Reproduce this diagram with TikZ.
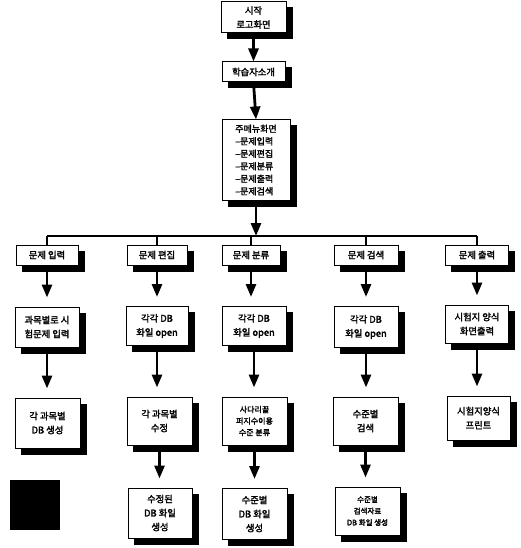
\documentclass[tikz,border=0pt]{standalone}
\usepackage{fontspec}
\setmainfont{Noto Sans CJK KR}
\newfontfamily\kb{Noto Sans CJK KR}[FakeBold=2.2]
\usetikzlibrary{arrows.meta,backgrounds}
\begin{document}
\begin{tikzpicture}[x=1pt,y=-1pt,
  box/.style={draw=black,line width=1pt,fill=white,align=center,inner sep=1pt,
    font=\kb\fontsize{9.3}{14}\selectfont},
  shadowfill/.style={fill=black},
  arr/.style={line width=2.8pt,-{Triangle[width=10pt,length=13pt]}},
  bus/.style={line width=1.3pt}]
\useasboundingbox (0,0) rectangle (521,548);

% test fill far from boxes
\fill[shadowfill] (10,480) rectangle (60,530);

% top
\node[box,minimum width=65pt,minimum height=31pt] (start) at (253.5,17.5) {시작\\로고화면};
\node[box,minimum width=63pt,minimum height=20pt] (intro) at (253.5,72) {학습자소개};
\node[box,minimum width=68pt,minimum height=80pt,align=left,font=\kb\fontsize{9}{12.5}\selectfont] (menu) at (256,160)
  {주메뉴화면\\–문제입력\\–문제편집\\–문제분류\\–문제출력\\–문제검색};

% categories
\node[box,minimum width=62pt,minimum height=20pt] (c1) at (47,255) {문제 입력};
\node[box,minimum width=60pt,minimum height=20pt] (c2) at (157,255) {문제 편집};
\node[box,minimum width=58pt,minimum height=20pt] (c3) at (251,255) {문제 분류};
\node[box,minimum width=64pt,minimum height=20pt] (c4) at (366,255) {문제 검색};
\node[box,minimum width=63pt,minimum height=20pt] (c5) at (477,255) {문제 출력};

% row 2
\node[box,minimum width=64pt,minimum height=40pt] (a1) at (47,327) {과목별로 시\\험문제 입력};
\node[box,minimum width=62pt,minimum height=39pt] (a2) at (157,326) {각각 DB\\화일 open};
\node[box,minimum width=64pt,minimum height=39pt] (a3) at (254,326) {각각 DB\\화일 open};
\node[box,minimum width=64pt,minimum height=41pt] (a4) at (366,327) {각각 DB\\화일 open};
\node[box,minimum width=63pt,minimum height=38pt] (a5) at (477,324) {시험지 양식\\화면출력};

% row 3
\node[box,minimum width=65pt,minimum height=50pt] (b1) at (47.5,423) {각 과목별\\DB 생성};
\node[box,minimum width=65pt,minimum height=48pt] (b2) at (159.5,421) {각 과목별\\수정};
\node[box,minimum width=65pt,minimum height=48pt,font=\kb\fontsize{8}{11.5}\selectfont] (b3) at (254.5,421) {사다리꼴\\퍼지수이용\\수준 분류};
\node[box,minimum width=65pt,minimum height=48pt] (b4) at (365.5,421) {수준별\\검색};
\node[box,minimum width=63pt,minimum height=44pt] (b5) at (478.5,418) {시험지양식\\프린트};

% row 4
\node[box,minimum width=64pt,minimum height=50pt] (d2) at (160,513) {수정된\\DB 화일\\생성};
\node[box,minimum width=65pt,minimum height=51pt] (d3) at (254.5,514) {수준별\\DB 화일\\생성};
\node[box,minimum width=65pt,minimum height=48pt,font=\kb\fontsize{7.5}{11.5}\selectfont] (d4) at (367.5,511) {수준별\\검색자료\\DB 화일 생성};

\coordinate (busL) at (47,236);
\coordinate (busR) at (477,236);

\begin{pgfonlayer}{background}
  \draw[arr] (start.south) -- (intro.north);
  \draw[arr] (intro.south) -- (menu.north);
  \draw[arr] (menu.south) -- (menu.south |- busL);
  \draw[bus] (busL) -- (busR);
  \foreach \c in {c1,c2,c3,c4,c5} \draw[bus] (\c.north |- busL) -- (\c.north);
  \foreach \u/\v in {c1/a1,c2/a2,c3/a3,c4/a4,c5/a5,a1/b1,a2/b2,a3/b3,a4/b4,a5/b5,b2/d2,b3/d3,b4/d4}
    \draw[arr,shorten >=9pt] (\u.south) -- (\u.south |- \v.north);
  \foreach \n in {start,intro,menu,c1,c2,c3,c4,c5,a1,a2,a3,a4,a5,b1,b2,b3,b4,b5,d2,d3,d4}
    \fill[shadowfill] ([xshift=6pt,yshift=-6pt]\n.north west) rectangle ([xshift=6pt,yshift=-6pt]\n.south east);
\end{pgfonlayer}
\end{tikzpicture}
\end{document}
